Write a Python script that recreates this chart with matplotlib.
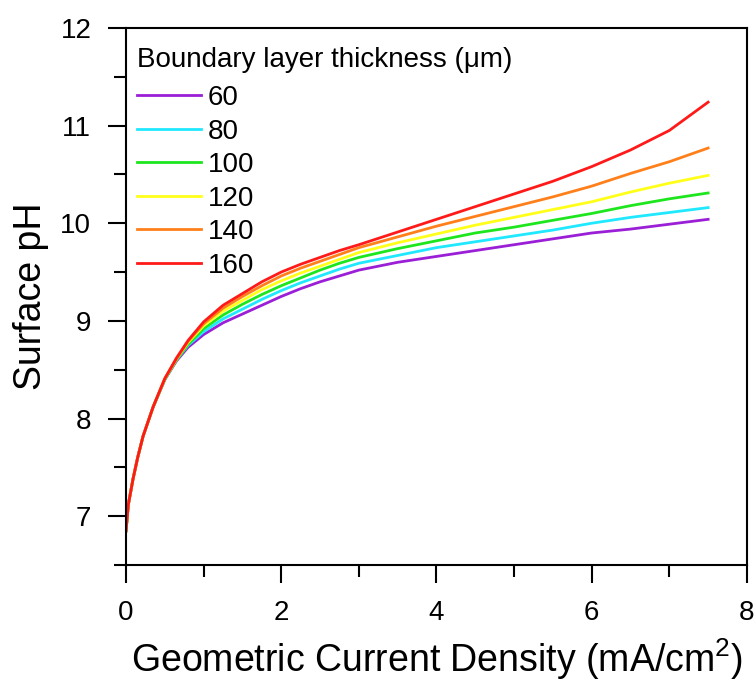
import matplotlib
matplotlib.use('Agg')
import matplotlib.pyplot as plt

plt.rcParams['font.family'] = ['Liberation Sans', 'DejaVu Sans']
plt.rcParams['mathtext.fontset'] = 'custom'
plt.rcParams['mathtext.rm'] = 'Liberation Sans'
plt.rcParams['mathtext.default'] = 'rm'

# current density (mA/cm2)
x = [0, 0.03, 0.09, 0.15, 0.22, 0.35, 0.5, 0.65, 0.8, 1.0, 1.25, 1.5, 1.75, 2.0,
     2.25, 2.5, 2.75, 3.0, 3.5, 4.0, 4.5, 5.0, 5.5, 6.0, 6.5, 7.0, 7.5]

# surface pH for each boundary layer thickness (um)
ph_60 = [6.85, 7.12, 7.38, 7.60, 7.82, 8.12, 8.40, 8.59, 8.73, 8.86, 8.98, 9.07, 9.16, 9.25,
         9.33, 9.40, 9.46, 9.52, 9.60, 9.66, 9.72, 9.78, 9.84, 9.90, 9.94, 9.99, 10.04]
ph_80 = [6.85, 7.12, 7.38, 7.60, 7.82, 8.12, 8.40, 8.60, 8.75, 8.89, 9.02, 9.12, 9.22, 9.31,
         9.39, 9.46, 9.53, 9.59, 9.67, 9.75, 9.81, 9.87, 9.93, 10.00, 10.06, 10.11, 10.16]
ph_100 = [6.85, 7.12, 7.38, 7.60, 7.82, 8.12, 8.40, 8.60, 8.76, 8.92, 9.06, 9.17, 9.27, 9.36,
          9.44, 9.52, 9.59, 9.65, 9.74, 9.82, 9.90, 9.96, 10.03, 10.10, 10.18, 10.25, 10.31]
ph_120 = [6.85, 7.12, 7.38, 7.60, 7.82, 8.12, 8.41, 8.61, 8.78, 8.95, 9.10, 9.21, 9.32, 9.41,
          9.49, 9.56, 9.63, 9.70, 9.80, 9.89, 9.98, 10.06, 10.14, 10.22, 10.32, 10.41, 10.49]
ph_140 = [6.85, 7.12, 7.38, 7.60, 7.82, 8.12, 8.41, 8.61, 8.79, 8.97, 9.13, 9.25, 9.36, 9.46,
          9.54, 9.61, 9.68, 9.75, 9.86, 9.97, 10.07, 10.17, 10.27, 10.38, 10.51, 10.63, 10.77]
ph_160 = [6.85, 7.12, 7.38, 7.60, 7.82, 8.12, 8.41, 8.62, 8.80, 8.99, 9.16, 9.28, 9.40, 9.50,
          9.58, 9.65, 9.72, 9.78, 9.91, 10.04, 10.17, 10.30, 10.43, 10.58, 10.75, 10.95, 11.24]

labels = ['60', '80', '100', '120', '140', '160']
colors = ['#9a1fd6', '#1fe8ff', '#1ee61e', '#ffff1a', '#ff801a', '#ff1a1a']


def main():
    fig = plt.figure(figsize=(7.56, 6.82), dpi=100)
    ax = fig.add_axes([0.1667, 0.1716, 0.8213, 0.7874])

    series = [ph_60, ph_80, ph_100, ph_120, ph_140, ph_160]
    for ys, lab, c in zip(series, labels, colors):
        ax.plot(x, ys, color=c, lw=2, label=lab)

    ax.set_xlim(0, 8)
    ax.set_ylim(6.5, 12)
    ax.set_xticks([0, 2, 4, 6, 8])
    ax.set_xticks([1, 3, 5, 7], minor=True)
    ax.set_yticks([7, 8, 9, 10, 11, 12])
    ax.set_yticks([6.5, 7.5, 8.5, 9.5, 10.5, 11.5], minor=True)
    ax.tick_params(which='major', direction='out', length=13, width=1.5,
                   labelsize=20, pad=12)
    ax.tick_params(which='minor', direction='out', length=8.5, width=1.5)
    for s in ax.spines.values():
        s.set_linewidth(1.5)

    ax.set_xlabel('Geometric Current Density (mA/cm$^2$)', fontsize=27, labelpad=8)
    ax.set_ylabel('Surface pH', fontsize=27, labelpad=8)

    leg = ax.legend(title='Boundary layer thickness (\u03bcm)', loc='upper left',
                    bbox_to_anchor=(0.0, 0.986), frameon=False, fontsize=20,
                    title_fontsize=20, handlelength=2.3, handletextpad=0.25,
                    labelspacing=0.27, borderaxespad=0.0)
    leg._legend_box.align = 'left'
    leg._legend_box.sep = 9

    fig.savefig('out.png', dpi=100)


if __name__ == '__main__':
    main()
